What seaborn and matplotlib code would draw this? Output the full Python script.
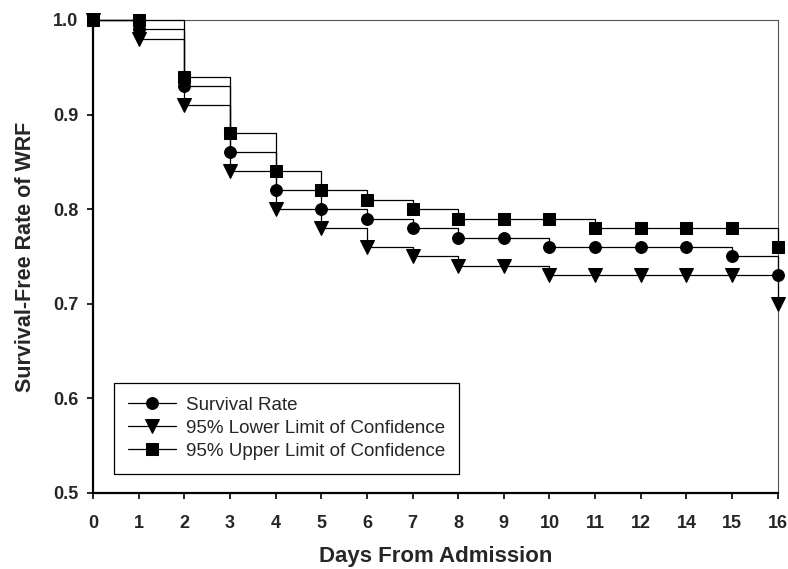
import matplotlib
matplotlib.use("Agg")
import matplotlib.pyplot as plt
import seaborn as sns
import pandas as pd

days = ["0", "1", "2", "3", "4", "5", "6", "7", "8", "9", "10", "11", "12", "14", "15", "16"]
survival = [1.00, 0.99, 0.93, 0.86, 0.82, 0.80, 0.79, 0.78, 0.77, 0.77, 0.76, 0.76, 0.76, 0.76, 0.75, 0.73]
lower = [1.00, 0.98, 0.91, 0.84, 0.80, 0.78, 0.76, 0.75, 0.74, 0.74, 0.73, 0.73, 0.73, 0.73, 0.73, 0.70]
upper = [1.00, 1.00, 0.94, 0.88, 0.84, 0.82, 0.81, 0.80, 0.79, 0.79, 0.79, 0.78, 0.78, 0.78, 0.78, 0.76]
series_names = ["Survival Rate", "95% Lower Limit of Confidence", "95% Upper Limit of Confidence"]

sns.set_style("white")
plt.rcParams['font.family'] = ['Liberation Sans', 'DejaVu Sans']

fig = plt.figure(figsize=(7.88, 5.69), dpi=100)
ax = fig.add_axes([0.118, 0.1336, 0.869, 0.8313])

pos = list(range(len(days)))
specs = [(survival, "o", 8.5), (lower, "v", 9.5), (upper, "s", 8.0)]
for (vals, mk, ms), name in zip(specs, series_names):
    df = pd.DataFrame({"x": pos, "y": vals})
    sns.lineplot(data=df, x="x", y="y", ax=ax, color="black", lw=0.9,
                 marker=mk, markersize=ms, markeredgecolor="black",
                 markerfacecolor="black", drawstyle="steps-post", label=name,
                 clip_on=False, zorder=5)

ax.set_xlim(0, len(days) - 1)
ax.set_ylim(0.5, 1.0)
ax.set_xticks(pos)
ax.set_xticklabels(days)
ax.set_yticks([0.5, 0.6, 0.7, 0.8, 0.9, 1.0])
ax.set_yticklabels(["0.5", "0.6", "0.7", "0.8", "0.9", "1.0"])
for lab in ax.get_xticklabels() + ax.get_yticklabels():
    lab.set_fontweight("bold")
    lab.set_fontsize(13)
ax.tick_params(axis="x", direction="out", length=4, width=1.2, color="black",
               bottom=True, pad=12)
ax.tick_params(axis="y", direction="out", length=4, width=1.2, color="black",
               left=True, pad=6.5)

for side in ["left", "bottom"]:
    ax.spines[side].set_color("black")
    ax.spines[side].set_linewidth(1.6)
for side in ["top", "right"]:
    ax.spines[side].set_visible(True)
    ax.spines[side].set_color("#555555")
    ax.spines[side].set_linewidth(0.8)

ax.set_xlabel("Days From Admission", fontsize=16, fontweight="bold", labelpad=10)
ax.set_ylabel("Survival-Free Rate of WRF", fontsize=15.5, fontweight="bold", labelpad=12)

leg = ax.legend(loc="lower left", bbox_to_anchor=(0.03, 0.04), fontsize=13.5,
                frameon=True, fancybox=False, edgecolor="black", framealpha=1,
                handlelength=2.6, borderpad=0.75, labelspacing=0.32, handletextpad=0.5,
                borderaxespad=0)
leg.get_frame().set_linewidth(0.9)

fig.savefig("out.png", dpi=100)
